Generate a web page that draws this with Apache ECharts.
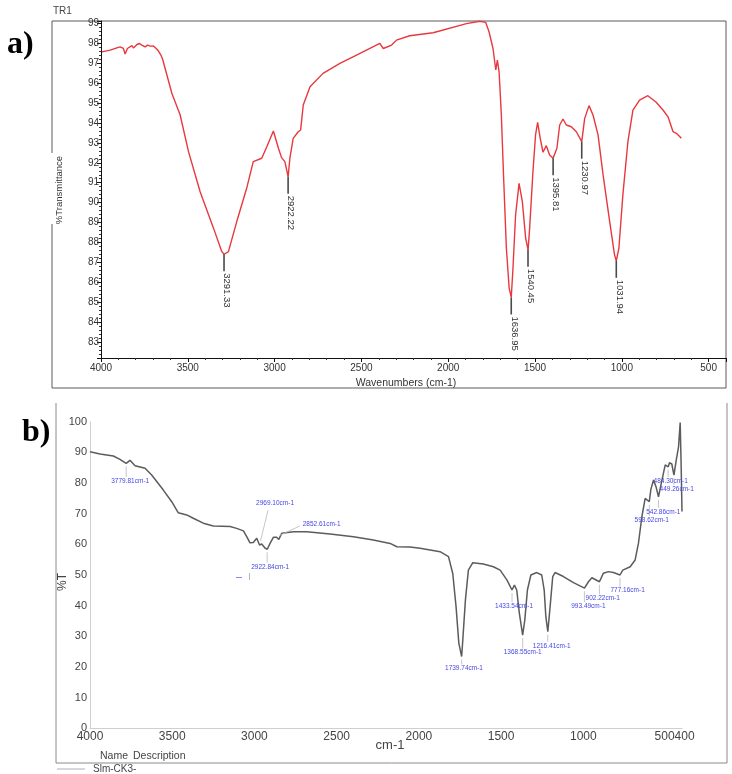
<!DOCTYPE html>
<html>
<head>
<meta charset="utf-8">
<title>FTIR spectra</title>
<script src="https://cdn.jsdelivr.net/npm/echarts@6/dist/echarts.min.js"></script>
<style>
    html, body { margin: 0; padding: 0; background: #fff; }
    #main { width: 732px; height: 774px; }
</style>
</head>
<body>
<div id="main"></div>
<script>
// a) TR1 : wavenumber (cm-1) and %Transmittance
var waveA = [3995, 3947, 3909, 3890, 3871, 3861, 3848, 3822, 3813, 3793,
    3778, 3765, 3746, 3732, 3717, 3698, 3682, 3669, 3655, 3645,
    3592, 3544, 3496, 3429, 3352, 3304, 3291, 3266, 3218,
    3161, 3123, 3074, 3045, 3007, 2978, 2960, 2941, 2922, 2912,
    2893, 2864, 2850, 2835, 2796, 2721, 2624, 2528, 2394, 2374,
    2326, 2298, 2222, 2087, 1895, 1819, 1784, 1765, 1742, 1726,
    1717, 1707, 1694, 1680, 1665, 1649, 1637, 1627, 1612, 1592,
    1573, 1554, 1540, 1531, 1512, 1497, 1485, 1470, 1454, 1435,
    1416, 1396, 1374, 1358, 1339, 1320, 1291, 1262, 1231, 1214,
    1189, 1166, 1137, 1108, 1070, 1042, 1032, 1017, 994, 965,
    936, 898, 850, 802, 763, 734, 705, 686, 657];
var transA = [97.57, 97.66, 97.77, 97.82, 97.74, 97.46, 97.74, 97.88, 97.77, 97.94,
    97.99, 97.91, 97.82, 97.91, 97.86, 97.87, 97.74, 97.61, 97.41, 97.2,
    95.49, 94.4, 92.56, 90.55, 88.72, 87.54, 87.41, 87.54, 89.05,
    90.72, 92.06, 92.23, 92.81, 93.6, 92.73, 92.26, 92.06, 91.3, 92.23,
    93.23, 93.56, 93.65, 94.9, 95.82, 96.49, 96.99, 97.41, 98.0, 97.74,
    97.91, 98.16, 98.38, 98.53, 98.99, 99.11, 99.05, 98.58, 97.74, 96.66,
    97.16, 96.57, 94.4, 91.05, 87.71, 85.71, 85.24, 86.71, 89.38, 90.97,
    90.05, 88.22, 87.63, 88.72, 91.56, 93.4, 94.03, 93.23, 92.53, 92.86,
    92.39, 92.23, 92.73, 93.9, 94.2, 93.9, 93.81, 93.56, 93.06, 94.23,
    94.87, 94.4, 93.4, 91.39, 89.05, 87.38, 87.08, 87.71, 90.39, 93.06,
    94.65, 95.15, 95.37, 95.04, 94.65, 94.31, 93.56, 93.48, 93.23];
var peakWaveA = [3291.33, 2922.22, 1636.95, 1540.45, 1395.81, 1230.97, 1031.94];
var peakTransA = [87.41, 91.3, 85.24, 87.63, 92.23, 93.06, 87.08];
var peakTextA = ['3291.33', '2922.22', '1636.95', '1540.45', '1395.81', '1230.97', '1031.94'];

// b) Slm-CK3 : wavenumber (cm-1) and %T
var waveB = [4000, 3939, 3858, 3818, 3780, 3757, 3745, 3726, 3665, 3625,
    3554, 3503, 3463, 3412, 3372, 3311, 3250, 3148, 3108, 3067,
    3047, 3027, 3007, 2986, 2969, 2956, 2936, 2922, 2905, 2885,
    2865, 2852, 2834, 2763, 2682, 2540, 2398, 2277, 2175, 2134,
    2054, 1993, 1871, 1820, 1794, 1774, 1757, 1740, 1733, 1717,
    1699, 1672, 1608, 1547, 1506, 1465, 1434, 1419, 1405, 1389,
    1369, 1356, 1340, 1319, 1283, 1253, 1238, 1228, 1216, 1202,
    1186, 1172, 1121, 1060, 993, 969, 948, 902, 878, 847,
    817, 777, 760, 715, 685, 665, 644, 624, 599, 589,
    573, 557, 543, 528, 502, 484, 476, 462, 449, 435,
    421, 411, 405, 400];
var transB = [90.2, 89.5, 88.8, 87.7, 86.4, 87.4, 86.9, 85.6, 84.8, 82.6,
    77.7, 73.9, 70.3, 69.6, 68.5, 66.9, 66.0, 65.8, 65.2, 64.4,
    62.5, 60.5, 60.6, 62.0, 59.8, 60.1, 58.8, 58.4, 60.3, 62.3,
    62.3, 61.6, 63.6, 64.1, 64.1, 63.4, 62.5, 61.4, 60.3, 59.2,
    59.1, 58.7, 57.6, 56.0, 50.5, 39.7, 27.7, 23.4, 28.8, 41.9,
    51.6, 54.0, 53.6, 52.7, 51.6, 48.4, 45.1, 46.7, 45.1, 37.5,
    30.4, 35.3, 45.1, 50.0, 50.8, 50.0, 45.1, 36.4, 31.5, 39.7,
    49.5, 50.8, 49.5, 47.5, 45.7, 47.8, 49.1, 47.8, 50.6, 51.1,
    50.8, 50.0, 51.6, 52.7, 54.9, 60.3, 69.0, 75.0, 73.9, 78.0,
    81.0, 78.6, 75.5, 79.4, 85.9, 85.3, 86.6, 86.2, 82.6, 87.5,
    91.8, 99.7, 85.3, 70.7];
var peakWaveB = [3779.81, 2969.10, 2922.84, 2852.61, 1739.74, 1433.54, 1368.55, 1216.41,
    993.49, 902.22, 777.16, 598.62, 542.86, 484.30, 449.26];
var peakTransB = [86.4, 59.8, 58.4, 61.6, 23.4, 45.1, 30.4, 31.5,
    45.7, 47.8, 50.0, 73.9, 75.5, 85.3, 82.6];
var peakTextB = ['3779.81cm-1', '2969.10cm-1', '2922.84cm-1', '2852.61cm-1', '1739.74cm-1',
    '1433.54cm-1', '1368.55cm-1', '1216.41cm-1', '993.49cm-1', '902.22cm-1', '777.16cm-1',
    '598.62cm-1', '542.86cm-1', '484.30cm-1', '449.26cm-1'];
// label placement (px from the peak) : text dx, dy, leader end dx, dy (from text)
var labelPlaceB = [[4, 17.6], [15.5, -41.7, -7, 7], [3, 17.5], [43, -15.4, -22, 2], [2.3, 11.7],
    [2, 16], [0, 17.6], [4, 14], [4, 17.8], [3.3, 16.6], [7.6, 15.7],
    [2.4, 18.3], [4.8, 14.9], [2.6, 14.2], [2.8, 14]];

function zip(xs, ys) {
    return xs.map(function (x, i) { return [x, ys[i]]; });
}

var FONT = '"Liberation Sans", Arial, sans-serif';
var SERIF = 'bold 32px "Liberation Serif", "Times New Roman", serif';

function plain(v) {
    return String(v);
}

// the last two tick labels of b) run together as "500400" in the original
function plainB(v) {
    if (v === 400) return '';
    if (v === 500) return '{end|500400}';
    return String(v);
}

function renderPeakA(params, api) {
    var p = api.coord([api.value(0), api.value(1)]);
    return {
        type: 'group',
        children: [{
            type: 'line',
            shape: { x1: p[0], y1: p[1], x2: p[0], y2: p[1] + 17 },
            style: { stroke: '#4a4a4a', lineWidth: 1.6 }
        }, {
            type: 'text',
            x: p[0] + 3,
            y: p[1] + 19,
            rotation: -Math.PI / 2,
            style: {
                text: peakTextA[params.dataIndex],
                font: '9.5px ' + FONT,
                fill: '#333',
                align: 'left',
                verticalAlign: 'middle'
            }
        }]
    };
}

function renderPeakB(params, api) {
    var p = api.coord([api.value(0), api.value(1)]);
    var pl = labelPlaceB[params.dataIndex];
    var tx = p[0] + pl[0], ty = p[1] + pl[1];
    var leader;
    if (pl[1] > 0) {
        leader = { x1: p[0], y1: p[1] + 3, x2: p[0], y2: ty - 4 };
    } else {
        leader = { x1: p[0] + 1, y1: p[1] - 4, x2: tx + pl[2], y2: ty + pl[3] };
    }
    return {
        type: 'group',
        children: [{
            type: 'line',
            shape: leader,
            style: { stroke: '#b8b8b8', lineWidth: 0.8 }
        }, {
            type: 'text',
            x: tx,
            y: ty,
            style: {
                text: peakTextB[params.dataIndex],
                font: '6.5px ' + FONT,
                fill: '#4646e6',
                align: 'center',
                verticalAlign: 'middle'
            }
        }]
    };
}

function txt(x, y, s, font, color, align, rot) {
    return {
        type: 'text', x: x, y: y, rotation: rot || 0, silent: true,
        style: { text: s, font: font, fill: color, align: align || 'left', verticalAlign: 'middle' }
    };
}

var myChart = echarts.init(document.getElementById('main'));

var option = {
    animation: false,
    backgroundColor: '#fff',
    grid: [
        { left: 101, top: 21, width: 625, height: 337 },
        { left: 90, top: 421.7, width: 592, height: 306.6 }
    ],
    xAxis: [{
        gridIndex: 0,
        type: 'value',
        inverse: true,
        min: 400,
        max: 4000,
        splitNumber: 7,
        minInterval: 500,
        maxInterval: 500,
        axisLine: { lineStyle: { color: '#111', width: 1 } },
        axisTick: { show: true, length: 4, lineStyle: { color: '#111' } },
        minorTick: { show: true, splitNumber: 5, length: 2, lineStyle: { color: '#333' } },
        splitLine: { show: false },
        axisLabel: { color: '#333', fontSize: 10, fontFamily: FONT, margin: 5, formatter: plain,
            hideOverlap: false, showMinLabel: false, showMaxLabel: true }
    }, {
        gridIndex: 1,
        type: 'value',
        inverse: true,
        min: 400,
        max: 4000,
        splitNumber: 7,
        minInterval: 500,
        maxInterval: 500,
        axisLine: { lineStyle: { color: '#cfcfcf', width: 1 } },
        axisTick: { show: false },
        splitLine: { show: false },
        axisLabel: { color: '#444', fontSize: 12, fontFamily: FONT, margin: 2, formatter: plainB,
            hideOverlap: false, showMinLabel: false, showMaxLabel: true,
            rich: { end: { color: '#444', fontSize: 12, fontFamily: FONT, padding: [0, 0, 0, 18] } } }
    }],
    yAxis: [{
        gridIndex: 0,
        type: 'value',
        min: 82.2,
        max: 99.12,
        splitNumber: 17,
        minInterval: 1,
        maxInterval: 1,
        axisLine: { show: true, lineStyle: { color: '#111', width: 1 } },
        axisTick: { show: true, length: 4, lineStyle: { color: '#111' } },
        minorTick: { show: true, splitNumber: 5, length: 2, lineStyle: { color: '#333' } },
        splitLine: { show: false },
        axisLabel: { color: '#333', fontSize: 10, fontFamily: FONT, margin: 2, formatter: plain,
            showMinLabel: false, showMaxLabel: false }
    }, {
        gridIndex: 1,
        type: 'value',
        min: 0,
        max: 100,
        interval: 10,
        axisLine: { show: true, lineStyle: { color: '#cfcfcf', width: 1 } },
        axisTick: { show: false },
        splitLine: { show: false },
        axisLabel: { color: '#444', fontSize: 11, fontFamily: FONT, margin: 3, formatter: plain }
    }],
    series: [{
        name: 'TR1',
        type: 'line',
        xAxisIndex: 0,
        yAxisIndex: 0,
        data: zip(waveA, transA),
        showSymbol: false,
        lineStyle: { color: '#e8383d', width: 1.4 },
        z: 3
    }, {
        name: 'TR1 peaks',
        type: 'custom',
        xAxisIndex: 0,
        yAxisIndex: 0,
        data: zip(peakWaveA, peakTransA),
        renderItem: renderPeakA,
        clip: false,
        z: 4
    }, {
        name: 'Slm-CK3-',
        type: 'line',
        xAxisIndex: 1,
        yAxisIndex: 1,
        data: zip(waveB, transB),
        showSymbol: false,
        lineStyle: { color: '#5c5c5c', width: 1.5 },
        z: 3
    }, {
        name: 'Slm-CK3 peaks',
        type: 'custom',
        xAxisIndex: 1,
        yAxisIndex: 1,
        data: zip(peakWaveB, peakTransB),
        renderItem: renderPeakB,
        clip: false,
        z: 4
    }],
    graphic: {
        elements: [
            // frame of panel a, broken on the left for the axis name
            { type: 'polyline', silent: true, shape: { points: [[52, 153], [52, 21], [726, 21], [726, 388], [52, 388], [52, 224]] },
                style: { stroke: '#5a5a5a', lineWidth: 1, fill: null } },
            // frame of panel b (open at the top)
            { type: 'polyline', silent: true, shape: { points: [[56, 403], [56, 763], [727, 763], [727, 403]] },
                style: { stroke: '#8a8a8a', lineWidth: 1, fill: null } },
            txt(7, 44.5, 'a)', SERIF, '#000'),
            txt(22, 433, 'b)', SERIF, '#000'),
            txt(53, 11.5, 'TR1', '10px ' + FONT, '#444'),
            txt(406, 383, 'Wavenumbers (cm-1)', '10.5px ' + FONT, '#333', 'center'),
            txt(59, 190, '%Transmittance', '9.5px ' + FONT, '#333', 'center', Math.PI / 2),
            txt(63, 582, '%T', '12px ' + FONT, '#444', 'center', Math.PI / 2),
            txt(390, 745.5, 'cm-1', '13px ' + FONT, '#444', 'center'),
            txt(100, 756, 'Name', '10.5px ' + FONT, '#444'),
            txt(133, 756, 'Description', '10.5px ' + FONT, '#444'),
            { type: 'line', silent: true, shape: { x1: 57, y1: 769, x2: 85, y2: 769 }, style: { stroke: '#b0b0b0', lineWidth: 1 } },
            txt(93, 769, 'Slm-CK3-', '10px ' + FONT, '#444'),
            // stray marks next to the 2922.84 label
            { type: 'line', silent: true, shape: { x1: 236, y1: 577.5, x2: 242, y2: 577.5 }, style: { stroke: '#8a8af0', lineWidth: 1 } },
            { type: 'line', silent: true, shape: { x1: 249.5, y1: 573, x2: 249.5, y2: 580 }, style: { stroke: '#b8b8b8', lineWidth: 1 } }
        ]
    }
};

myChart.setOption(option);
</script>
</body>
</html>
